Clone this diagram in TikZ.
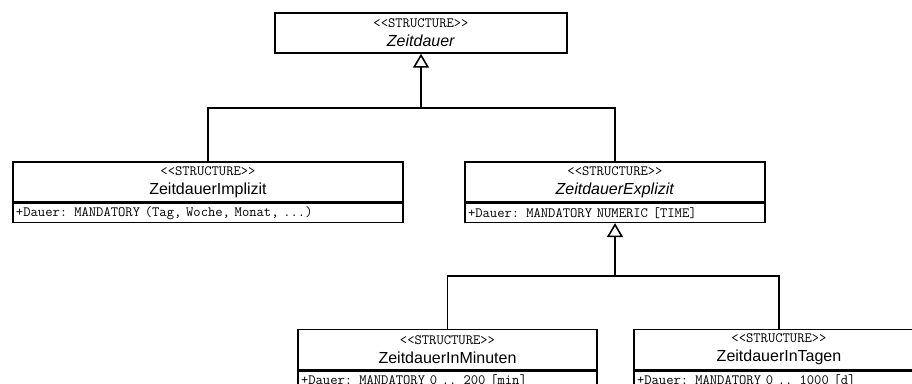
\documentclass[tikz,border=0pt]{standalone}
\usepackage{fontspec}
\setmainfont{Liberation Sans}
\usetikzlibrary{positioning, arrows.meta}
\newcommand{\stereo}{{\ttfamily\fontsize{14.2}{14.2}\selectfont <<STRUCTURE>>}}
\tikzset{
  classhead/.style={rectangle, draw=black, line width=1.4pt, fill=white, align=center, inner sep=0pt, minimum height=40pt, font=\fontsize{16}{19}\selectfont},
  classattr/.style={rectangle, draw=black, line width=1.4pt, fill=white, align=left, inner xsep=3pt, inner ysep=0pt, minimum height=19pt, font=\ttfamily\fontsize{14.2}{14.2}\selectfont},
  link/.style={line width=1.6pt},
  inherit/.style={line width=1.6pt, -{Triangle[open, length=14pt, width=16pt]}}
}

\begin{document}
\begin{tikzpicture}[x=1pt, y=-1pt]
        \path[use as bounding box, clip] (0,0) rectangle (912,383);
        \fill[white] (0,0) rectangle (912,383);

        \node (zd) [classhead, minimum width=292pt] at (421,33) {\stereo\\\textit{Zeitdauer}};
        \node (impl) [classhead, minimum width=390pt] at (208,182) {\stereo\\ZeitdauerImplizit};
        \node (impla) [classattr, text width=384pt, below=0pt of impl] {+Dauer: MANDATORY (Tag, Woche, Monat, ...)};
        \node (expl) [classhead, minimum width=300pt] at (615,182) {\stereo\\\textit{ZeitdauerExplizit}};
        \node (expla) [classattr, text width=294pt, below=0pt of expl] {+Dauer: MANDATORY NUMERIC [TIME]};
        \node (min) [classhead, minimum width=299pt] at (447.5,349.5) {\stereo\\ZeitdauerInMinuten};
        \node (mina) [classattr, text width=293pt, below=0pt of min] {+Dauer: MANDATORY 0 .. 200 [min]};
        \node (tage) [classhead, minimum width=290pt] at (779,349.5) {\stereo\\ZeitdauerInTagen};
        \node (tagea) [classattr, text width=284pt, below=0pt of tage] {+Dauer: MANDATORY 0 .. 1000 [d]};

        \coordinate (split1) at (421,108);
        \coordinate (split2) at (615,276);
        \draw [link] (impl.north) |- (split1) -| (expl.north);
        \draw [inherit] (split1) -- (zd.south);
        \draw [link] (min.north) |- (split2) -| (tage.north);
        \draw [inherit] (split2) -- (expla.south);
\end{tikzpicture}
\end{document}
